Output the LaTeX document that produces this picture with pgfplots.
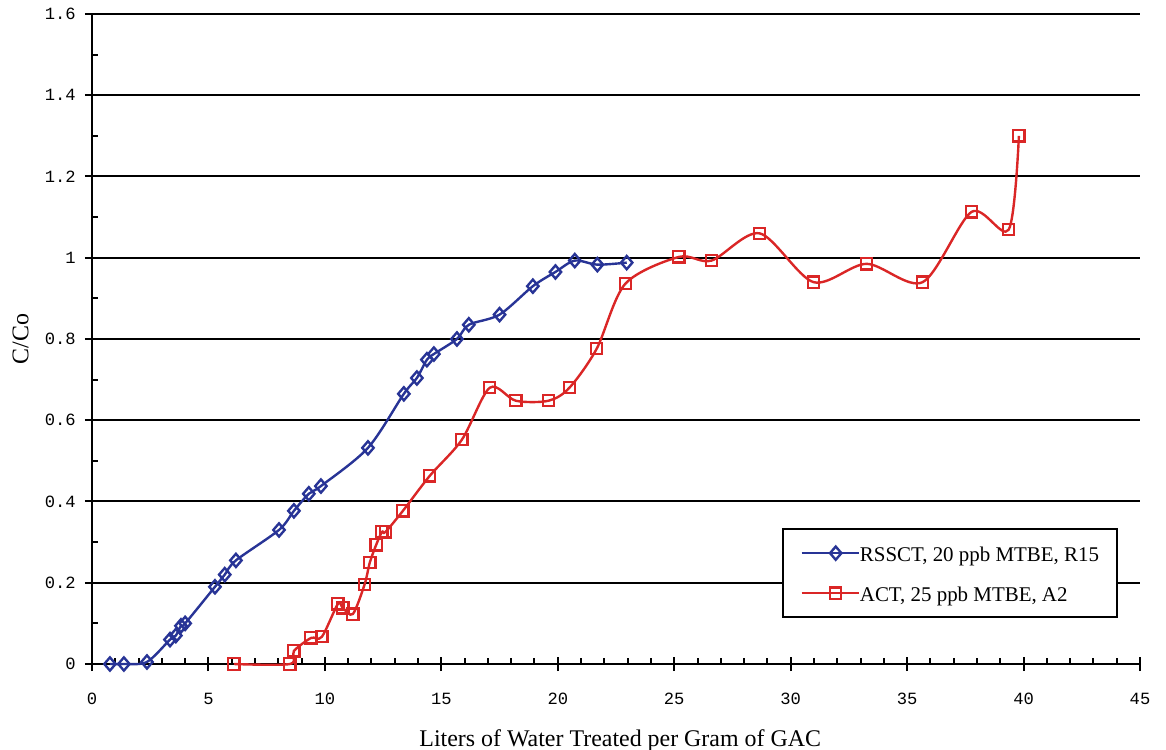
\documentclass[border=0pt]{standalone}
\usepackage{fontspec}
\setmainfont{Liberation Serif}
\setmonofont{Liberation Mono}
\usepackage{pgfplots}
\pgfplotsset{compat=1.18}
\usetikzlibrary{calc}

\definecolor{rsblue}{RGB}{40,52,150}
\definecolor{actred}{RGB}{218,38,38}

\begin{document}
\begin{tikzpicture}
\begin{axis}[
  name=ax,
  width=524bp, height=325bp, scale only axis,
  xmin=0, xmax=45, ymin=0, ymax=1.6,
  xtick={0,5,...,45}, ytick={0,0.2,0.4,0.6,0.8,1,1.2,1.4,1.6},
  minor x tick num=4, minor y tick num=1,
  axis x line*=bottom, axis y line*=left,
  axis line style={line width=1.2bp, black},
  ymajorgrids, major grid style={line width=1bp, black},
  tick style={line width=1bp, black},
  tick align=inside,
  major tick length=7bp, minor tick length=3bp,
  every major x tick/.append style={yshift=-3.5bp},
  every major y tick/.append style={xshift=-3.5bp},
  /pgf/number format/assume math mode=true,
  tick label style={font=\ttfamily\fontsize{8.6}{8.6}\selectfont, inner sep=0pt},
  xticklabel style={anchor=base, yshift=-20bp},
  yticklabel style={anchor=east, xshift=-8bp},
  every axis x label/.style={at={(axis description cs:0.504,-0.1262)}, anchor=base},
  every axis y label/.style={at={(axis description cs:-0.0606,0.5)}, rotate=90, anchor=base},
  label style={font=\fontsize{12}{12}\selectfont},
  xlabel={Liters of Water Treated per Gram of GAC},
  ylabel={C/Co},
  clip=false,
  legend cell align=left,
  legend style={at={(0.979,0.209)}, anchor=north east, draw=black, line width=1bp,
    fill=white, font=\fontsize{10.5}{10.5}\selectfont,
    inner xsep=9bp, inner ysep=8bp, row sep=12bp, column sep=0pt,
    nodes={inner sep=0pt, text height=8bp, text depth=0bp}},
  legend image code/.code={
    \path (0bp,0bp) -- (28.5bp,0bp);
    \draw[mark repeat=2,mark phase=2,#1] plot coordinates {(5.5bp,0bp)(17bp,0bp)(28.5bp,0bp)};
  },
]
\addplot[rsblue, line width=1.2bp, smooth, mark=diamond, mark size=3.3bp,
  mark options={solid, line width=1.2bp, fill=white, xscale=1.15}] coordinates {
  (0.77,0) (1.37,0) (2.36,0.005) (3.35,0.06) (3.6,0.07) (3.82,0.094) (4.0,0.10)
  (5.28,0.19) (5.7,0.22) (6.18,0.255) (8.03,0.33) (8.67,0.377) (9.31,0.419)
  (9.83,0.438) (11.85,0.532) (13.39,0.665) (13.95,0.704) (14.38,0.749)
  (14.68,0.763) (15.67,0.80) (16.18,0.835) (17.5,0.86) (18.93,0.93)
  (19.9,0.965) (20.73,0.993) (21.7,0.983) (22.96,0.988)
};
\addplot[actred, line width=1.2bp, smooth, mark=square, mark size=2.8bp,
  mark options={solid, line width=1.1bp, fill=white}] coordinates {
  (6.09,0) (8.5,0) (8.67,0.032) (9.4,0.064) (9.87,0.067) (10.56,0.148)
  (10.77,0.138) (11.2,0.123) (11.7,0.195) (11.93,0.25) (12.2,0.293)
  (12.45,0.325) (12.6,0.325) (13.35,0.377) (14.5,0.463) (15.88,0.552)
  (17.08,0.68) (18.2,0.648) (19.6,0.648) (20.5,0.68) (21.67,0.776)
  (22.9,0.936) (25.2,1.002) (26.6,0.993) (28.67,1.06) (30.98,0.94)
  (33.26,0.985) (35.67,0.94) (37.77,1.113) (39.36,1.069) (39.8,1.30)
};
\legend{{RSSCT, 20 ppb MTBE, R15},{ACT, 25 ppb MTBE, A2}}
\end{axis}
\pgfresetboundingbox
\path[use as bounding box] ($(ax.south west)+(-46bp,-43bp)$) rectangle ($(ax.north east)+(13bp,7bp)$);
\end{tikzpicture}
\end{document}
